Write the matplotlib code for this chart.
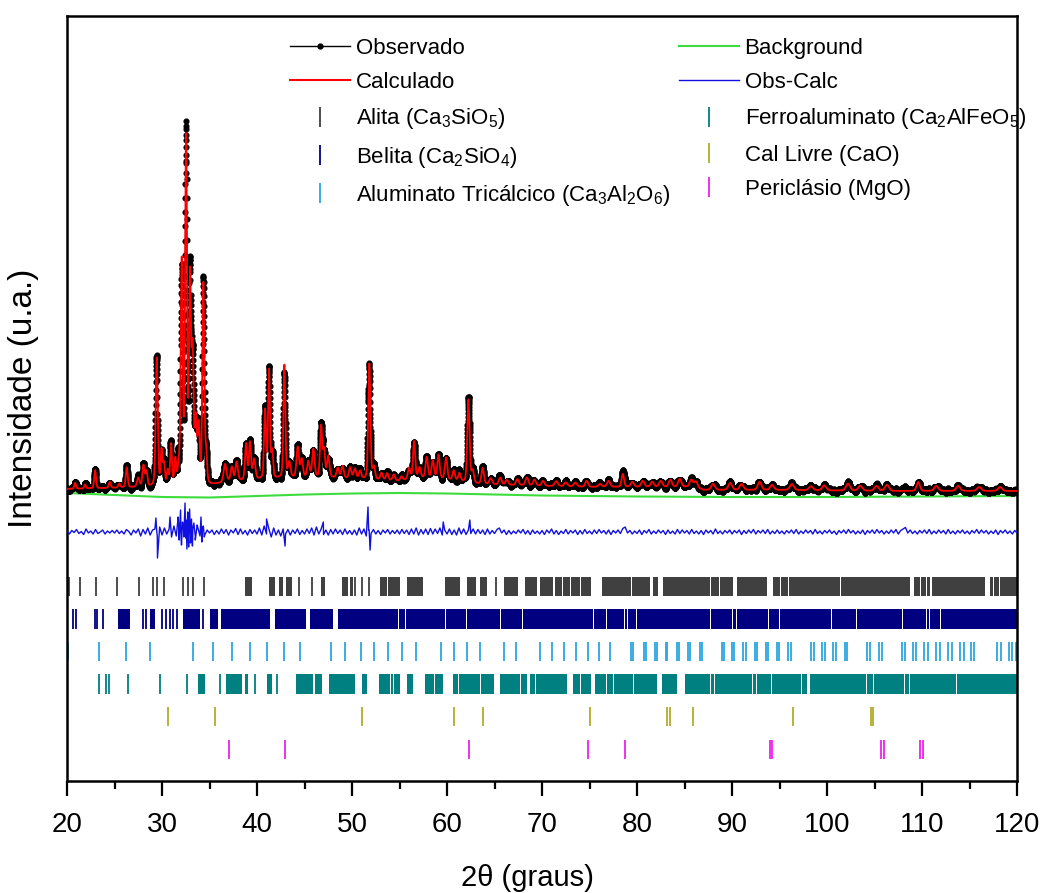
import numpy as np
import matplotlib.pyplot as plt
from matplotlib.lines import Line2D
from matplotlib.ticker import MultipleLocator

plt.rcParams['font.family'] = ['Liberation Sans', 'DejaVu Sans']
plt.rcParams['mathtext.fontset'] = 'custom'
plt.rcParams['mathtext.rm'] = 'Liberation Sans'
plt.rcParams['mathtext.it'] = 'Liberation Sans:italic'
plt.rcParams['mathtext.bf'] = 'Liberation Sans:bold'

# ---- refined pattern (Cu Ka), intensities in counts ----
# background knots
bg_x = [20, 25, 30, 35, 40, 45, 50, 55, 60, 65, 70, 80, 90, 100, 110, 120]
bg_y = [2880, 2860, 2840, 2835, 2850, 2865, 2875, 2880, 2875, 2865, 2855, 2845, 2840, 2840, 2845, 2850]

# level of the calculated curve between resolved reflections
floor_x = [20, 25, 29, 32, 35, 37, 40, 44, 48, 52, 55, 57, 60, 63, 66, 70, 75, 80, 86, 87, 95, 105, 120]
floor_y = [2920, 2930, 2940, 2950, 2950, 2990, 3010, 3030, 3030, 3010, 3000, 3030, 3010, 2970, 2960,
           2950, 2940, 2940, 2940, 2910, 2910, 2900, 2900]

# reflections: position (2theta), height above floor, FWHM
peak_pos = [20.85, 21.9, 22.95, 24.5, 25.5, 26.28, 27.5, 28.04, 28.35, 29.44, 29.95, 30.2, 30.6, 30.95,
            31.4, 31.75, 32.07, 32.53, 32.95, 33.22, 33.55, 33.85, 34.35, 34.65, 36.63, 37.35, 37.86,
            38.84, 39.26, 39.7, 40.84, 41.26, 41.6, 42.88, 43.4, 44.28, 44.7, 45.4, 45.93, 46.74, 47.05,
            47.5, 48.5, 49.0, 49.8, 50.3, 50.85, 51.82, 52.3, 53.1, 53.7, 54.4, 55.2, 56.0, 56.53, 57.1,
            57.86, 58.5, 59.1, 59.9, 60.7, 61.3, 62.25, 62.7, 63.75, 64.6, 65.6, 66.3, 67.4, 68.4, 69.2,
            70.1, 71.5, 72.5, 73.5, 74.7, 76.1, 77.0, 78.5, 79.5, 80.6, 81.6, 82.5, 83.5, 84.5, 85.7,
            86.2, 88.0, 89.8, 91.0, 92.9, 94.2, 96.3, 98.3, 99.7, 102.2, 103.5, 105.2, 106.3, 109.6,
            111.5, 113.8, 116.0, 118.2]
peak_height = [60, 40, 180, 60, 40, 200, 90, 210, 150, 1280, 340, 210, 140, 400,
               240, 150, 2200, 3420, 2000, 1250, 600, 560, 2000, 280, 180, 140, 190,
               360, 370, 200, 680, 1080, 260, 1130, 150, 300, 180, 160, 280, 510, 270,
               210, 100, 120, 110, 100, 80, 1160, 120, 70, 70, 60, 40, 110, 370, 100,
               210, 180, 240, 220, 100, 80, 830, 120, 160, 60, 70, 50, 60, 80, 60,
               50, 50, 40, 40, 60, 30, 60, 130, 50, 60, 50, 60, 70, 80, 70,
               60, 60, 70, 60, 80, 50, 60, 40, 50, 70, 50, 50, 60, 90,
               50, 50, 40, 40]
peak_fwhm = [0.2, 0.2, 0.22, 0.25, 0.25, 0.24, 0.3, 0.25, 0.25, 0.26, 0.22, 0.22, 0.22, 0.22,
             0.22, 0.22, 0.24, 0.24, 0.24, 0.24, 0.24, 0.25, 0.24, 0.22, 0.35, 0.3, 0.3,
             0.26, 0.26, 0.3, 0.24, 0.24, 0.22, 0.24, 0.3, 0.3, 0.3, 0.3, 0.3, 0.26, 0.26,
             0.3, 0.3, 0.3, 0.3, 0.3, 0.3, 0.26, 0.3, 0.3, 0.3, 0.3, 0.3, 0.3, 0.27, 0.3,
             0.3, 0.3, 0.3, 0.3, 0.3, 0.3, 0.28, 0.3, 0.3, 0.35, 0.35, 0.35, 0.35, 0.35, 0.35,
             0.35, 0.4, 0.4, 0.4, 0.35, 0.4, 0.4, 0.3, 0.4, 0.4, 0.4, 0.4, 0.4, 0.4, 0.4,
             0.4, 0.45, 0.45, 0.45, 0.45, 0.45, 0.5, 0.5, 0.5, 0.5, 0.5, 0.5, 0.5, 0.4,
             0.5, 0.5, 0.5, 0.5]

# Obs-Calc residual, every 0.25 deg from 20 to 120
diff_vals = [
    10, -20, 15, -5, 25, -15, 5, -25, 30, -10, 10, -20, 25, -15, 0, 20, -20, 10, -10, 15,
    -10, 20, -15, 10, -20, 25, 5, -30, 20, -10, 30, -40, 25, -20, 40, -30, 20, 30, -40, 50,
    -30, 40, -20, 30, -50, 60, -40, 60, -50, 70, -60, 60, -50, 40, -40, 50, -40, 40, -30, 20,
    -10, 20, -25, 15, -20, 30, -15, 25, -30, 20, -10, 35, -25, 30, -20, 15, -30, 25, -15, 20,
    -20, 40, -30, 60, -20, 30, -50, 40, -30, 20, -40, 30, -20, 25, -30, 20, -15, 30, -25, 15,
    -20, 30, -15, 40, -30, 50, -20, 30, -25, 20, -30, 25, -20, 30, -15, 20, -25, 30, -20, 15,
    -25, 20, -30, 40, -20, 30, -40, 20, -15, 25, -20, 15, -25, 20, -10, 25, -20, 15, -15, 20,
    -20, 25, -15, 20, -25, 30, -20, 40, -30, 25, -20, 30, -25, 35, -20, 30, -15, 40, -30, 20,
    -20, 30, -25, 20, -30, 40, -20, 30, -25, 20, -15, 30, -20, 25, -15, 20, -25, 30, -20, 15,
    -15, 25, 40, -10, 20, -25, 15, -20, 10, -15, 20, -10, 25, -20, 15, -25, 20, -15, 10, -20,
    15, -25, 20, -10, 30, -20, 15, -25, 10, -15, 25, -20, 15, -10, 20, -25, 15, -20, 25, -15,
    10, -20, 20, -15, 25, -10, 15, -20, 20, -25, 15, -10, 20, -15, 35, 50, -10, 15, -20, 10,
    -15, 20, -25, 15, -10, 25, -20, 10, -15, 20, -10, 15, -25, 20, -15, 10, -20, 25, -15, 20,
    -10, 15, -20, 25, -15, 10, -20, 15, -25, 20, -10, 15, -20, 30, -15, 10, -20, 15, -10, 20,
    -20, 15, -10, 20, -25, 15, -15, 20, -10, 25, -20, 15, -10, 20, -15, 25, -20, 10, -15, 20,
    -15, 10, -20, 15, -10, 20, -15, 25, -20, 10, -15, 20, -10, 15, -20, 25, -15, 10, -20, 15,
    -10, 20, -15, 10, -25, 15, -10, 20, -15, 25, -10, 15, -20, 10, -15, 20, -25, 15, -10, 20,
    -15, 25, -10, 15, -20, 10, -15, 20, -10, 25, -20, 15, 30, 45, -10, 20, -15, 10, -20, 15,
    -10, 20, -15, 25, -20, 10, -15, 20, -10, 15, -20, 25, -15, 10, -20, 15, -10, 20, -15, 10,
    -20, 15, -10, 25, -15, 20, -10, 15, -20, 10, -15, 20, -25, 15, -10, 20, -15, 10, -20, 15,
    -10]
# sharp residual features around the strongest reflections
spike_pos = [29.36, 29.44, 29.52, 30.84, 31.70, 31.80, 31.95, 32.05, 32.15, 32.30, 32.42, 32.53, 32.62,
             32.70, 32.80, 32.90, 33.00, 33.10, 33.20, 33.35, 33.50, 33.70, 34.10, 34.20, 34.35,
             34.45, 41.00, 42.95, 46.98, 51.68, 51.80, 51.90, 59.60, 62.40]
spike_val = [140, 10, -260, 150, 150, -80, 220, -130, 100, -50, 290, 120, -170,
             200, -150, 230, -110, 130, -140, 90, -80, 70, 150, -100, 60,
             -50, 130, -140, 100, 250, 20, -180, 100, 120]

# reflection markers per phase: isolated ticks and merged runs (start, end)
alita_ticks = [20.2, 21.4, 23.0, 25.3, 27.55, 29.0, 29.5, 30.2, 32.2, 32.7, 33.3, 34.45,
               44.45, 45.8, 50.3, 51.0, 51.8, 65.2]
alita_runs = [(38.7, 39.45), (41.3, 41.9), (42.3, 42.7), (43.0, 43.65), (46.7, 47.2), (48.9, 49.6),
              (49.8, 50.1), (52.95, 53.65), (53.8, 55.05), (55.75, 57.5), (59.8, 61.4), (62.1, 63.1),
              (63.5, 64.2), (66.0, 67.5), (68.2, 69.45), (69.8, 71.2), (71.4, 72.1), (72.25, 72.95),
              (73.05, 73.95), (74.05, 75.2), (76.3, 79.35), (79.45, 81.4), (81.7, 82.25), (82.7, 87.65),
              (87.75, 88.65), (88.75, 90.1), (90.5, 93.65), (94.35, 95.0), (95.1, 95.85), (95.95, 100.05),
              (100.15, 101.35), (101.45, 102.05), (102.15, 108.7), (109.1, 109.75), (109.85, 110.45),
              (110.55, 110.8), (111.0, 116.6), (117.2, 117.45), (117.55, 118.15), (118.25, 120.0)]
belita_ticks = [20.6, 20.95, 22.9, 23.2, 23.8, 28.0, 28.3, 29.97, 30.4, 30.8, 31.2, 31.6, 34.35]
belita_runs = [(25.4, 26.6), (28.7, 29.3), (32.25, 34.0), (35.05, 35.9), (36.2, 41.4), (41.9, 45.2),
               (45.6, 48.0), (48.55, 54.85), (54.95, 55.55), (55.65, 59.75), (59.85, 61.95),
               (62.05, 65.55), (65.65, 67.85), (67.95, 75.35), (75.45, 76.75), (76.85, 78.65),
               (78.75, 78.95), (79.05, 79.9), (80.0, 87.65), (87.75, 89.95), (90.05, 90.45),
               (90.55, 93.75), (93.85, 94.95), (95.05, 100.45), (100.55, 103.05), (103.15, 106.05),
               (106.15, 107.85), (107.95, 110.45), (110.55, 110.75), (110.85, 111.85), (111.95, 120.0)]
c3a_ticks = [20.1, 23.4, 26.2, 28.7, 33.3, 35.4, 37.4, 39.26, 41.1, 42.85, 44.5, 47.8, 49.3, 50.9,
             52.35, 53.8, 55.3, 56.7, 59.4, 60.7, 62.1, 63.5, 66.0, 67.3, 69.8, 71.1, 72.35, 73.6,
             74.8, 76.0, 77.2, 79.4, 79.6, 80.75, 80.95, 81.9, 82.1, 83.0, 83.2, 84.2, 84.4, 85.4,
             85.6, 86.6, 86.8, 88.9, 89.15, 90.0, 90.25, 91.2, 91.45, 92.4, 92.65, 93.55, 93.8,
             94.7, 94.95, 95.9, 96.2, 98.3, 98.6, 99.45, 99.75, 100.65, 100.95, 101.85, 102.15,
             104.2, 104.55, 105.45, 105.8, 107.85, 108.2, 109.05, 109.4, 110.25, 110.6, 111.5,
             111.85, 112.7, 113.1, 114.0, 114.4, 115.1, 115.5, 117.9, 118.3, 119.1, 119.5, 119.9]
ferro_ticks = [23.4, 24.1, 24.45, 26.4, 29.8, 32.6, 36.1, 39.8, 42.1]
ferro_runs = [(33.8, 34.5), (36.7, 38.4), (38.7, 39.05), (41.0, 41.55), (44.1, 45.9), (46.1, 46.8),
              (47.6, 50.3), (51.0, 51.55), (52.8, 53.95), (54.05, 54.3), (54.4, 55.05), (55.75, 56.45),
              (57.7, 58.65), (58.75, 59.6), (60.6, 61.15), (61.25, 63.45), (63.55, 64.9), (65.6, 67.65),
              (67.75, 68.4), (68.75, 69.25), (69.35, 70.05), (70.15, 72.6), (73.3, 73.95), (74.05, 75.2),
              (75.6, 76.75), (76.85, 77.45), (77.55, 79.55), (79.65, 82.1), (82.6, 84.2), (85.05, 87.65),
              (87.75, 88.15), (88.25, 90.05), (90.15, 92.15), (92.25, 92.55), (92.65, 94.15),
              (94.25, 97.25), (97.35, 97.85), (98.2, 104.15), (104.25, 104.85), (104.95, 108.15),
              (108.25, 108.65), (108.75, 113.6), (113.7, 120.0)]
cao_ticks = [30.66, 35.55, 51.1, 60.7, 63.76, 75.1, 83.2, 83.45, 85.9, 96.45, 104.6, 104.85]
mgo_ticks = [37.0, 42.95, 62.35, 74.8, 78.75, 94.0, 94.25, 105.65, 105.95, 109.75, 110.05]


def pseudo_voigt(x, pos, height, fwhm, eta=0.3):
    u = (x - pos) / (fwhm / 2)
    return height * (eta / (1 + u ** 2) + (1 - eta) * np.exp(-np.log(2) * u ** 2))


tt = np.arange(20, 120.0001, 0.01)
calc = np.interp(tt, floor_x, floor_y)
for p, h, w in zip(peak_pos, peak_height, peak_fwhm):
    calc = calc + pseudo_voigt(tt, p, h, w)

diff_x = np.concatenate([np.arange(20, 120.0001, 0.25), spike_pos])
diff_y = np.concatenate([diff_vals, spike_val])
order = np.argsort(diff_x)
diff_x, diff_y = diff_x[order], diff_y[order]
obs = calc + np.interp(tt, diff_x, diff_y)

fig = plt.figure(figsize=(10.44, 8.93), dpi=100)
ax = fig.add_axes([0.0642, 0.1254, 0.9100, 0.8567])

ax.plot(tt, obs, color='black', lw=0.6, marker='o', ms=3.4, mec='black', mfc='black', zorder=2)
ax.plot(bg_x, bg_y, color='#3ddc3d', lw=1.5, zorder=1)
ax.plot(tt, calc, color='#ff0000', lw=1.3, zorder=3)
diff_base = 2490
ax.plot(diff_x, diff_y + diff_base, color='#1010e0', lw=1.0, zorder=3)

rows = [
    (alita_ticks, alita_runs, '#404040', 1947),
    (belita_ticks, belita_runs, '#000080', 1620),
    (c3a_ticks, [], '#2aa6e0', 1293),
    (ferro_ticks, ferro_runs, '#008080', 970),
    (cao_ticks, [], '#b3ad2a', 643),
    (mgo_ticks, [], '#ee20ee', 313),
]
half = 97
for ticks, runs, color, yc in rows:
    ax.vlines(ticks, yc - half, yc + half, colors=color, lw=1.3)
    if runs:
        ax.broken_barh([(a, b - a) for a, b in runs], (yc - half, 2 * half), facecolors=color)

ax.set_xlim(20, 120)
ax.set_ylim(0, 7650)
ax.set_yticks([])
ax.xaxis.set_major_locator(MultipleLocator(10))
ax.xaxis.set_minor_locator(MultipleLocator(5))
ax.tick_params(axis='x', which='major', direction='out', length=11, width=1.6, labelsize=20, pad=11)
ax.tick_params(axis='x', which='minor', direction='out', length=6, width=1.6)
for s in ax.spines.values():
    s.set_linewidth(1.8)

ax.set_xlabel('2θ (graus)', fontsize=21)
ax.xaxis.set_label_coords(0.485, -0.108)
ax.set_ylabel('Intensidade (u.a.)', fontsize=24)
ax.yaxis.set_label_coords(-0.03, 0.5)

tick_kw = dict(linestyle='None', marker='|', markersize=14, markeredgewidth=1.3)
handles = [
    Line2D([], [], color='black', lw=1, marker='o', ms=3.5),
    Line2D([], [], color='#ff0000', lw=1.5),
    Line2D([], [], color='#404040', **tick_kw),
    Line2D([], [], color='#000080', **tick_kw),
    Line2D([], [], color='#2aa6e0', **tick_kw),
    Line2D([], [], color='#3ddc3d', lw=1.5),
    Line2D([], [], color='#1010e0', lw=1.0),
    Line2D([], [], color='#008080', **tick_kw),
    Line2D([], [], color='#b3ad2a', **tick_kw),
    Line2D([], [], color='#ee20ee', **tick_kw),
]
labels = [
    'Observado', 'Calculado', r'Alita (Ca$_3$SiO$_5$)', r'Belita (Ca$_2$SiO$_4$)',
    r'Aluminato Tricálcico (Ca$_3$Al$_2$O$_6$)',
    'Background', 'Obs-Calc', r'Ferroaluminato (Ca$_2$AlFeO$_5$)', 'Cal Livre (CaO)', 'Periclásio (MgO)',
]
ax.legend(handles, labels, ncol=2, frameon=False, fontsize=16, loc='upper left',
          bbox_to_anchor=(0.223, 0.986), handlelength=2.7, handletextpad=0.25,
          columnspacing=0.4, labelspacing=0.6, borderpad=0, numpoints=1)

fig.savefig('out.png', dpi=100)
